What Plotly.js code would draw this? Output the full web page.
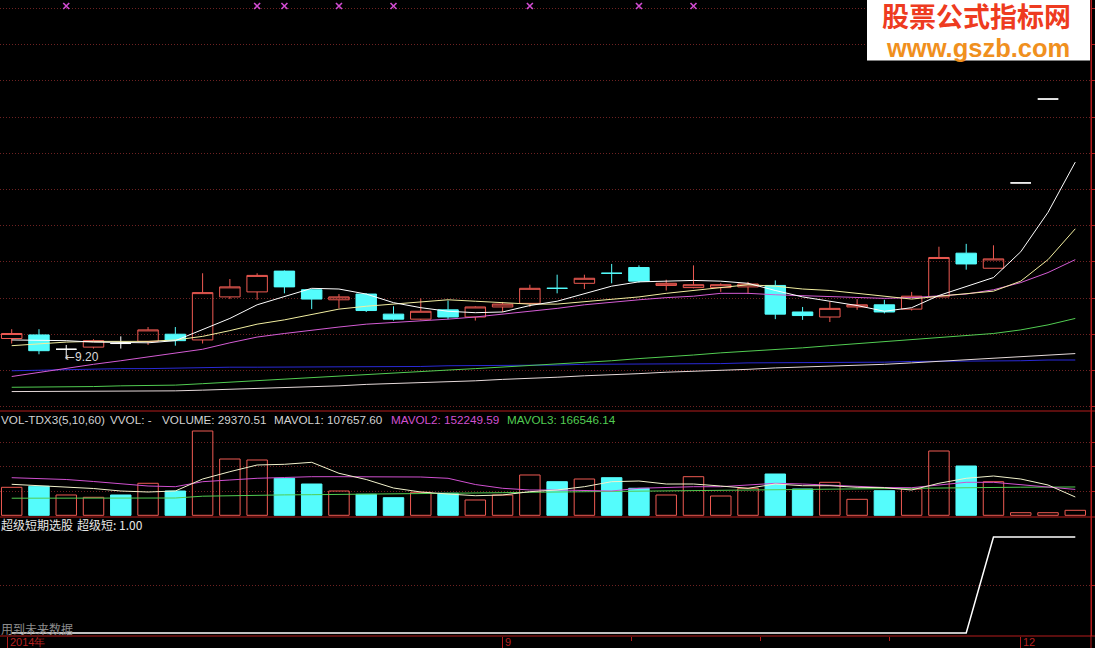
<!DOCTYPE html>
<html><head><meta charset="utf-8">
<script src="https://cdn.plot.ly/plotly-3.0.1.min.js"></script>
<style>html,body{margin:0;padding:0;background:#000;}#chart{width:1095px;height:648px;}</style>
</head><body><div id="chart"></div>
<script>
// ---------------- data (weekly bars) ----------------
const weeks = [0,1,2,3,4,5,6,7,8,9,10,11,12,13,14,15,16,17,18,19,20,21,22,23,24,25,26,27,28,29,30,31,32,33,34,35,36,37,38,39];
const openP  = [9.49,9.54,9.34,9.37,9.42,9.45,9.55,9.47,10.07,10.14,10.43,10.17,10.03,10.11,9.83,9.76,9.89,9.79,9.93,9.98,10.19,10.26,10.40,10.48,10.23,10.20,10.20,10.21,10.23,9.86,9.79,9.93,9.96,9.90,10.07,10.68,10.47,11.66,12.83,14.11];
const highP  = [9.62,9.62,9.40,9.48,9.52,9.65,9.65,10.40,10.32,10.40,10.44,10.18,10.11,10.12,9.94,10.05,10.02,9.94,10.00,10.24,10.38,10.38,10.53,10.51,10.31,10.51,10.26,10.28,10.30,9.93,10.01,10.04,10.03,10.14,10.77,10.81,10.79,11.66,12.83,14.11];
const lowP   = [9.42,9.27,9.20,9.35,9.35,9.40,9.39,9.42,10.04,10.03,10.12,9.90,9.91,9.86,9.74,9.75,9.76,9.74,9.86,9.93,10.12,10.18,10.26,10.27,10.16,10.19,10.14,10.11,9.76,9.75,9.72,9.89,9.84,9.88,10.07,10.45,10.47,11.66,12.83,14.11];
const closeP = [9.56,9.32,9.34,9.46,9.42,9.61,9.46,10.13,10.21,10.37,10.21,10.04,10.07,9.88,9.76,9.87,9.79,9.93,9.97,10.19,10.19,10.33,10.40,10.29,10.26,10.24,10.24,10.25,9.83,9.81,9.91,9.96,9.86,10.08,10.62,10.53,10.60,11.66,12.83,14.11];
// candle tone: r = hollow red, c = cyan, w = white doji
const candleTone = ['r','c','w','r','w','r','c','r','r','r','c','c','r','c','c','r','c','r','r','r','c','r','c','c','r','r','r','r','c','c','r','r','c','r','r','c','r','w','w','w'];

const ma5   = [9.47,9.47,9.46,9.44,9.43,9.43,9.46,9.62,9.77,9.96,10.08,10.19,10.18,10.11,9.99,9.92,9.87,9.85,9.86,9.95,10.01,10.12,10.22,10.28,10.29,10.30,10.29,10.26,10.16,10.07,10.01,9.95,9.87,9.92,10.09,10.21,10.34,10.70,11.25,11.95];
const ma10  = [9.39,9.42,9.44,9.45,9.45,9.45,9.47,9.52,9.60,9.69,9.75,9.83,9.90,9.94,9.97,10.00,10.03,10.01,9.99,9.97,9.97,10.00,10.03,10.07,10.12,10.16,10.20,10.24,10.22,10.18,10.16,10.12,10.07,10.04,10.08,10.11,10.15,10.29,10.59,11.02];
const ma20  = [8.96,9.02,9.07,9.13,9.18,9.23,9.29,9.34,9.43,9.51,9.56,9.61,9.65,9.69,9.71,9.73,9.76,9.79,9.83,9.86,9.91,9.96,10.00,10.03,10.06,10.08,10.12,10.12,10.10,10.09,10.07,10.06,10.05,10.06,10.08,10.11,10.17,10.27,10.41,10.59];
const ma60  = [8.81,8.81,8.82,8.82,8.83,8.83,8.84,8.86,8.88,8.90,8.92,8.94,8.97,8.99,9.01,9.03,9.05,9.07,9.09,9.11,9.13,9.16,9.18,9.21,9.23,9.26,9.29,9.31,9.34,9.36,9.39,9.42,9.44,9.47,9.50,9.53,9.56,9.61,9.68,9.77];
const ma120 = [8.75,8.75,8.75,8.75,8.75,8.76,8.76,8.77,8.78,8.79,8.81,8.82,8.83,8.85,8.86,8.87,8.89,8.90,8.92,8.93,8.95,8.97,8.98,9.00,9.02,9.03,9.05,9.06,9.08,9.09,9.11,9.12,9.13,9.15,9.17,9.19,9.21,9.23,9.26,9.28];
const ma250 = [9.04,9.05,9.05,9.06,9.07,9.07,9.08,9.08,9.09,9.09,9.09,9.09,9.10,9.10,9.10,9.10,9.11,9.11,9.12,9.12,9.12,9.13,9.13,9.13,9.14,9.14,9.14,9.15,9.15,9.15,9.16,9.16,9.16,9.17,9.17,9.18,9.18,9.18,9.19,9.19];

// signal weeks (magenta crosses along the top)
const signalWeeks = [2,9,10,12,14,19,23,25];

const volume = [164600,170500,119400,105800,119400,188200,142900,495700,331000,325200,217600,184000,142900,123500,103500,135200,129400,90000,119400,237000,197600,213400,221100,158800,119400,227000,113500,158800,242800,154600,194000,94100,144600,154600,378100,289900,197600,15300,15300,29370.51];
const volTone = ['r','c','r','r','c','r','c','r','r','r','c','c','r','c','c','r','c','r','r','r','c','r','c','c','r','r','r','r','c','c','r','r','c','r','r','c','r','r','r','r'];
const mavol1 = [182300,175200,168200,157600,142900,137000,142900,213400,256400,295800,299900,311600,247000,210500,160500,137000,125200,115200,119400,138800,148800,168200,197600,201700,184000,184000,172300,158800,184000,174000,174000,164600,162300,148800,188200,217600,231100,213400,178200,107657.60];
const mavol2 = [221100,216400,210500,198700,184000,172300,168200,197600,207600,217600,222300,227000,227000,227000,227000,225200,217600,181100,158800,148800,148800,145800,142900,158800,163500,168200,168200,178200,188200,184000,178200,169300,163500,162300,178200,194000,194000,181100,168200,152249.59];
const mavol3 = [100500,100500,100500,100500,100500,101100,101700,112300,115800,118800,120000,121100,122300,123500,125200,127600,129400,131100,132900,135200,137000,139400,141700,142900,144600,147000,148800,150500,152900,154100,155200,156400,157600,158800,160500,162300,164100,165200,165800,166546.14];

const superShort = [0,0,0,0,0,0,0,0,0,0,0,0,0,0,0,0,0,0,0,0,0,0,0,0,0,0,0,0,0,0,0,0,0,0,0,0,1,1,1,1];

const dateTicks = [-0.14, 18, 37];
const dateLabels = ['2014年', '9', '12'];
const minorDateTicks = [22.74, 27.47, 32.2];

// ---------------- styling ----------------
const RED = '#ee5a52', CYAN = '#54fcfc', AXRED = '#b41c1c', GRID = '#6e2222';
const PW = 1091, PH = 636;
const px = v => v / PW;
const py = v => 1 - v / PH;
const PRICE_RANGE = [8.479, 14.211];
const VOL_RANGE = [-9996, 613284];
const IND_RANGE = [-0.03125, 1.2083];

function pick(arr, tones, t) { return arr.filter((_, i) => tones[i] === t); }
function candle(t, col, fill) {
  return {
    type: 'candlestick', xaxis: 'x', yaxis: 'y',
    x: pick(weeks, candleTone, t), open: pick(openP, candleTone, t), high: pick(highP, candleTone, t),
    low: pick(lowP, candleTone, t), close: pick(closeP, candleTone, t),
    increasing: {line: {color: col, width: 1}, fillcolor: fill},
    decreasing: {line: {color: col, width: 1}, fillcolor: fill},
    whiskerwidth: 0, hoverinfo: 'skip', showlegend: false
  };
}
function line(y, color, yaxis, w) {
  return {type: 'scatter', mode: 'lines', x: weeks, y: y, xaxis: 'x', yaxis: yaxis,
    line: {color: color, width: w || 1}, hoverinfo: 'skip', showlegend: false};
}
function vbar(t, col, fill) {
  return {type: 'bar', xaxis: 'x', yaxis: 'y2', x: pick(weeks, volTone, t), y: pick(volume, volTone, t),
    width: 0.75, marker: {color: fill, line: {color: col, width: 1}}, hoverinfo: 'skip', showlegend: false};
}

const signalLevel = PRICE_RANGE[1] - 6 * (PRICE_RANGE[1] - PRICE_RANGE[0]) / 411;

const traces = [
  candle('r', RED, 'rgba(0,0,0,0)'),
  candle('c', CYAN, CYAN),
  candle('w', '#ffffff', '#ffffff'),
  line(ma250, '#2a2ad6', 'y'),
  line(ma120, '#e6dada', 'y'),
  line(ma60, '#52cc52', 'y'),
  line(ma20, '#d45cd4', 'y'),
  line(ma10, '#f2eea0', 'y'),
  line(ma5, '#ffffff', 'y'),
  {type: 'scatter', mode: 'markers', x: signalWeeks, y: signalWeeks.map(() => signalLevel), xaxis: 'x', yaxis: 'y',
   marker: {symbol: 'x-thin', size: 6, line: {color: '#d24cd2', width: 1.6}}, hoverinfo: 'skip', showlegend: false},
  vbar('r', RED, 'rgba(0,0,0,0)'),
  vbar('c', CYAN, CYAN),
  line(mavol3, '#52cc52', 'y2'),
  line(mavol2, '#d050d0', 'y2'),
  line(mavol1, '#f2f2cc', 'y2'),
  line(superShort, '#ffffff', 'y3', 1.5)
];

const minLow = Math.min(...lowP);
const minIdx = lowP.indexOf(minLow);

const TXT = '#d2d2d2';
const LAT = 'Liberation Sans, DejaVu Sans, sans-serif';
const CJK = 'Noto Sans CJK SC, sans-serif';
function note(text, x, y, color, size, family, anchor) {
  return {xref: 'paper', yref: 'paper', x: px(x), y: py(y), xanchor: anchor || 'left', yanchor: 'middle',
    text: text, showarrow: false, borderpad: 0, font: {color: color, size: size, family: family}};
}
const last = weeks.length - 1;
const HS = 11.7;
const annotations = [
  note('VOL-TDX3(5,10,60)', 0, 419, TXT, HS, LAT),
  note('VVOL: -', 109, 419, TXT, HS, LAT),
  note('VOLUME: ' + volume[last].toFixed(2), 161, 419, TXT, HS, LAT),
  note('MAVOL1: ' + mavol1[last].toFixed(2), 273, 419, TXT, HS, LAT),
  note('MAVOL2: ' + mavol2[last].toFixed(2), 390, 419, '#d050d0', HS, LAT),
  note('MAVOL3: ' + mavol3[last].toFixed(2), 506, 419, '#52cc52', HS, LAT),
  note('超级短期选股', 0, 524, '#e6e6e6', 12, CJK),
  note('超级短: ' + superShort[last].toFixed(2), 76, 524, '#e6e6e6', 12, CJK),
  note('用到未来数据', 0, 628, '#8c8c8c', 12, CJK),
  {xref: 'x', yref: 'y', x: minIdx, y: minLow, xanchor: 'left', yanchor: 'middle', yshift: 2, xshift: -2,
   text: '<span style="font-family:DejaVu Sans">←</span>' + minLow.toFixed(2), showarrow: false, borderpad: 0,
   font: {color: '#d8d8d8', size: 12, family: LAT}}
];
// watermark: two separate lines
const wm1 = note('股票公式指标网', 976, 18, '#ee3b20', 27, 'Liberation Sans, Noto Sans CJK SC, sans-serif', 'center');
wm1.font.weight = 700;
const wm2 = note('www.gszb.com', 978, 48, '#f0901e', 25.5, LAT, 'center');
wm2.font.weight = 700;
annotations.push(wm1, wm2);
dateTicks.forEach((t, i) => annotations.push({xref: 'x', yref: 'paper', x: t, y: py(642), xanchor: 'left', yanchor: 'middle',
  xshift: 1, text: dateLabels[i], showarrow: false, borderpad: 0, font: {color: '#b42020', size: 11, family: LAT}}));

const shapes = [
  {type: 'line', xref: 'paper', yref: 'paper', x0: 0, x1: 1.004, y0: py(411), y1: py(411), line: {color: AXRED, width: 1}},
  {type: 'line', xref: 'paper', yref: 'paper', x0: 0, x1: 1.004, y0: py(517), y1: py(517), line: {color: AXRED, width: 1}},
  {type: 'line', xref: 'paper', yref: 'paper', x0: 0, x1: 1.004, y0: py(636), y1: py(636), line: {color: AXRED, width: 1}},
  {type: 'line', xref: 'paper', yref: 'paper', x0: 1, x1: 1, y0: py(648), y1: 1, line: {color: AXRED, width: 1}},
  {type: 'rect', xref: 'paper', yref: 'paper', x0: px(867), x1: px(1090), y0: py(60.5), y1: 1, fillcolor: '#ffffff', line: {width: 0}, layer: 'above'}
];

function yax(domain, range, extra) {
  return Object.assign({domain: domain, range: range, side: 'right', anchor: 'x', showticklabels: false,
    showgrid: true, gridcolor: GRID, gridwidth: 1, griddash: '1px,2px', zeroline: false,
    ticks: 'outside', ticklen: 4, tickcolor: AXRED, showline: true, linecolor: AXRED, linewidth: 1, fixedrange: true}, extra);
}

const layout = {
  width: 1095, height: 648,
  margin: {l: 0, r: 4, t: 0, b: 12, pad: 0},
  paper_bgcolor: '#000000', plot_bgcolor: '#000000',
  font: {family: LAT, color: TXT},
  showlegend: false, hovermode: false, dragmode: false,
  barmode: 'overlay', boxmode: 'overlay', boxgap: 0.25, boxgroupgap: 0,
  xaxis: {domain: [0, 1], range: [-0.429, 39.576], anchor: 'y3', showgrid: false, zeroline: false, showline: false,
    rangeslider: {visible: false}, tickmode: 'array', tickvals: dateTicks, ticktext: dateTicks.map(() => ''),
    ticks: 'outside', ticklen: 12, tickcolor: AXRED, tickwidth: 1,
    minor: {tickmode: 'array', tickvals: minorDateTicks, ticks: 'outside', ticklen: 4, tickcolor: AXRED, showgrid: false},
    fixedrange: true},
  yaxis: yax([py(411), 1], PRICE_RANGE, {tickmode: 'linear', tick0: 8.537, dtick: 0.50526}),
  yaxis2: yax([py(517), py(411)], VOL_RANGE, {tickmode: 'array', tickvals: [142500, 285000, 427500]}),
  yaxis3: yax([0, py(517)], IND_RANGE, {tickmode: 'array', tickvals: [0.5]}),
  annotations: annotations,
  shapes: shapes
};

Plotly.newPlot('chart', traces, layout, {staticPlot: true, displayModeBar: false});
</script></body></html>
